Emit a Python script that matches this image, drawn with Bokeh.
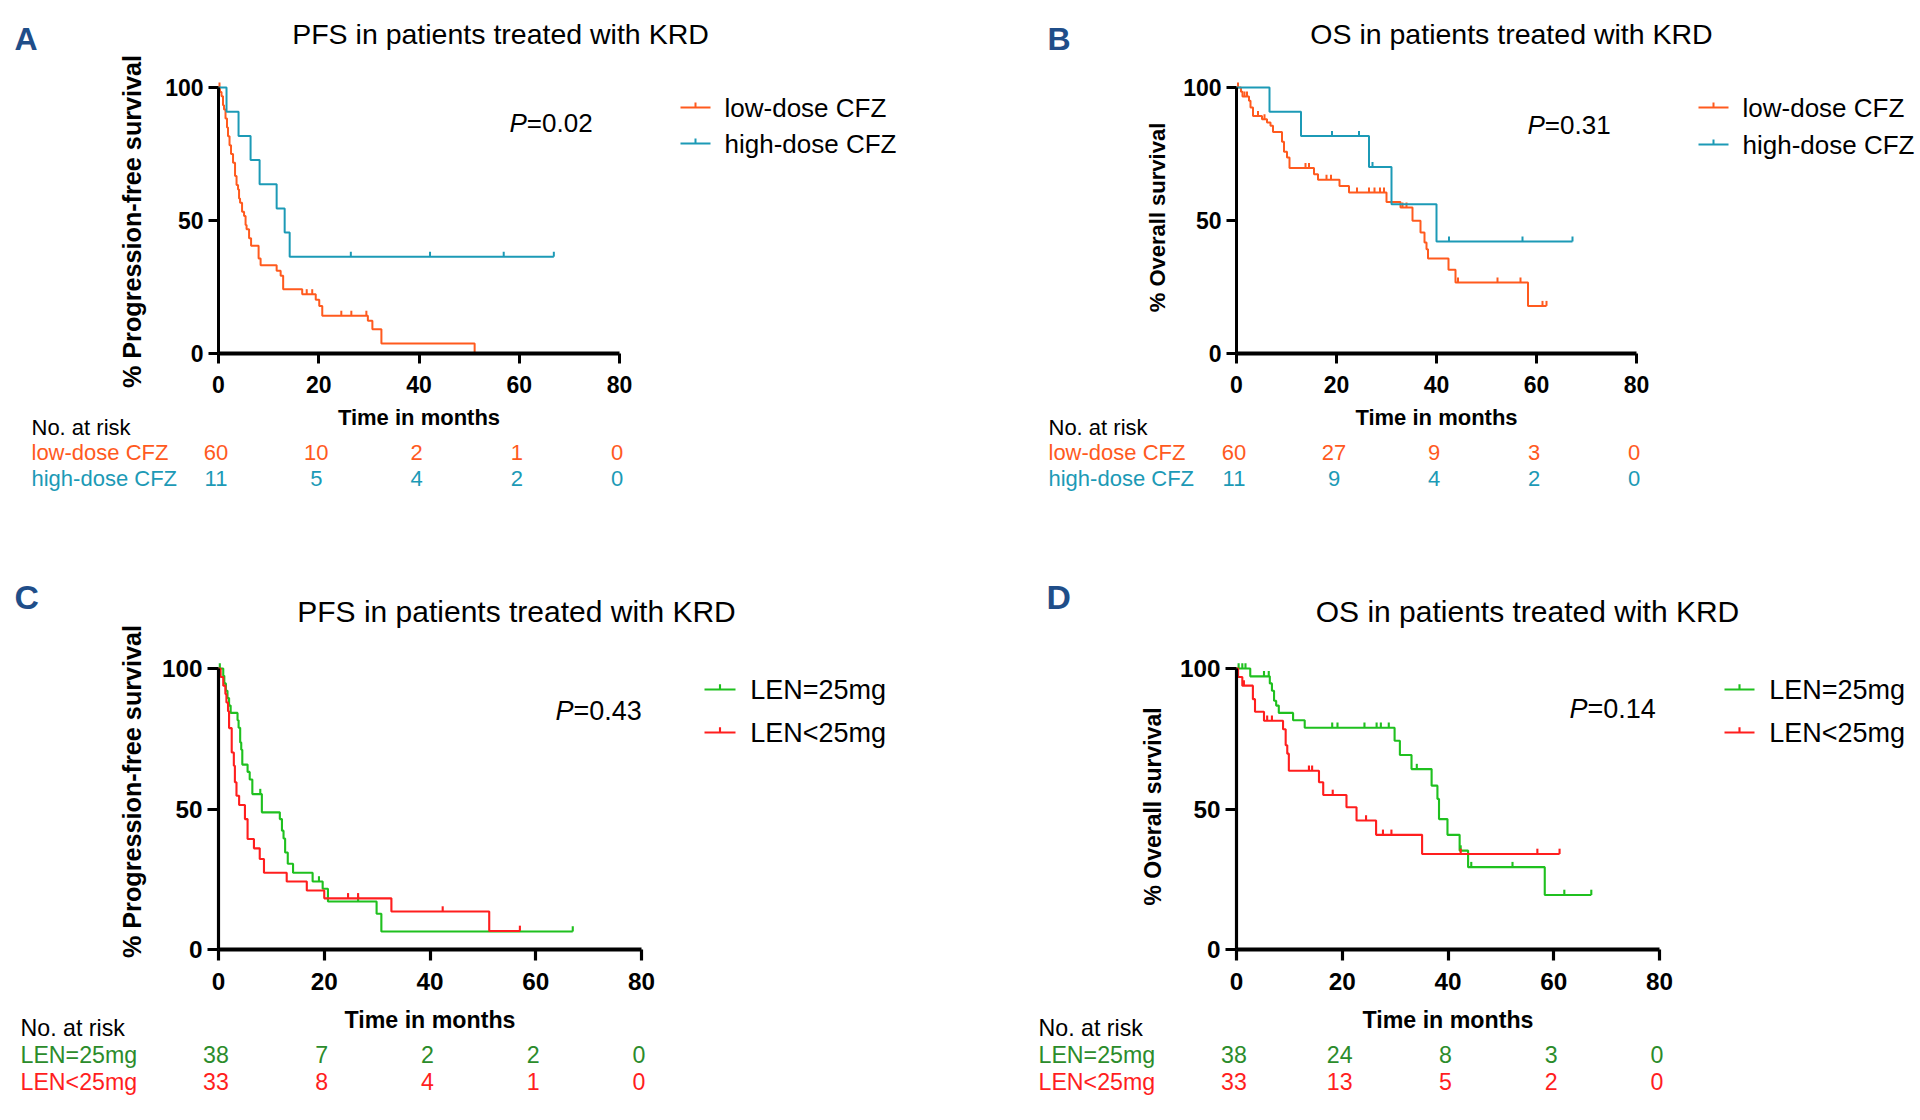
import numpy as np
from bokeh.plotting import figure
from bokeh.models import LinearAxis, FixedTicker, Range1d
from bokeh.layouts import column, row
from bokeh.core.properties import value
from bokeh.embed import file_html
from bokeh.resources import INLINE

FONT = "Liberation Sans"

X_TICKS = [0, 20, 40, 60, 80]
Y_TICKS = [0, 50, 100]

# ---------------- Panel A : PFS by CFZ dose ----------------
A_LOW_T = [0, 0.3, 0.6, 0.9, 1.1, 1.4, 1.7, 1.9, 2.2, 2.5, 2.9, 3.3, 3.6, 3.9, 4.1, 4.3, 4.7, 5.1, 5.4, 5.6,
           6.1, 6.5, 8.0, 8.4, 11.6, 12.4, 12.9, 16.7, 19.4, 20.1, 20.7, 29.8, 30.7, 32.5, 51.1]
A_LOW_S = [100, 98.3, 96.7, 93.3, 91.7, 88.3, 85.0, 81.7, 78.3, 75.0, 71.7, 66.7, 63.3, 61.7, 58.3, 56.7, 53.3, 51.7, 48.3, 46.7,
           43.3, 40.5, 35.7, 33.2, 31.1, 29.2, 24.2, 22.3, 20.2, 17.9, 14.2, 12.3, 9.1, 3.8, 0]
A_LOW_C = [0.2, 17.6, 18.7, 24.5, 26.5, 29.5]
A_HIGH_T = [0, 1.6, 4.0, 6.4, 8.2, 11.6, 13.2, 14.2, 66.9]
A_HIGH_S = [100, 90.9, 81.8, 72.7, 63.6, 54.5, 45.5, 36.4, 36.4]
A_HIGH_C = [26.4, 42.2, 56.9, 66.9]
A_RISK_LOW = [60, 10, 2, 1, 0]
A_RISK_HIGH = [11, 5, 4, 2, 0]

# ---------------- Panel B : OS by CFZ dose ----------------
B_LOW_T = [0, 0.9, 1.2, 2.5, 2.8, 3.3, 5.1, 6.1, 6.8, 7.3, 9.1, 9.5, 10.1, 10.6, 15.5, 16.3, 20.6, 22.5, 30.0, 32.8,
           35.2, 36.8, 37.6, 38.0, 38.3, 42.4, 43.8, 58.3, 62.0]
B_LOW_S = [100, 98.4, 96.6, 95.0, 92.5, 89.3, 88.1, 86.8, 85.6, 83.3, 79.6, 75.8, 73.7, 69.7, 67.4, 65.3, 63.0, 60.5, 57.0, 54.9,
           49.9, 45.5, 41.7, 39.2, 35.7, 31.5, 26.7, 17.9, 17.9]
B_LOW_C = [0.3, 1.6, 2.1, 4.3, 5.6, 13.8, 14.5, 18.0, 18.9, 24.1, 26.5, 27.6, 28.7, 29.5, 33.2, 34.0, 44.3, 52.2, 56.8, 61.2, 62.0]
B_HIGH_T = [0, 6.6, 12.9, 26.5, 31.0, 40.0, 67.2]
B_HIGH_S = [100, 90.9, 81.8, 70.1, 56.1, 42.1, 42.1]
B_HIGH_C = [19.1, 24.5, 27.2, 42.5, 57.2, 67.2]
B_RISK_LOW = [60, 27, 9, 3, 0]
B_RISK_HIGH = [11, 9, 4, 2, 0]

# ---------------- Panel C : PFS by LEN dose ----------------
C_EQ_T = [0, 0.9, 1.1, 1.4, 1.7, 2.0, 2.3, 3.6, 3.8, 4.1, 4.3, 4.5, 5.5, 5.9, 6.4, 8.2, 11.6, 12.0, 12.3, 12.6,
          13.1, 14.1, 17.8, 19.7, 20.7, 29.9, 30.8, 67.0]
C_EQ_S = [100, 97.4, 94.7, 92.1, 89.5, 86.8, 84.2, 81.6, 78.9, 73.7, 71.1, 65.8, 63.2, 60.5, 55.3, 48.8, 46.4, 42.3, 39.5, 34.5,
          30.5, 27.3, 24.2, 21.6, 17.1, 12.7, 6.4, 6.4]
C_EQ_C = [0.25, 7.9, 19.0, 26.4, 67.0]
C_LT_T = [0, 0.4, 0.9, 1.3, 1.5, 1.8, 2.0, 2.5, 2.9, 3.1, 3.4, 3.9, 5.0, 5.5, 6.7, 7.8, 8.6, 12.9, 16.7, 20.0, 32.7, 51.2, 57.0]
C_LT_S = [100, 97.0, 93.9, 90.9, 87.9, 84.8, 78.8, 70.1, 65.4, 59.5, 54.7, 51.4, 46.4, 39.3, 36.0, 32.2, 27.3, 24.2, 21.0, 18.2,
          13.5, 6.6, 6.6]
C_LT_C = [24.5, 26.4, 42.4, 57.0]
C_RISK_EQ = [38, 7, 2, 2, 0]
C_RISK_LT = [33, 8, 4, 1, 0]

# ---------------- Panel D : OS by LEN dose ----------------
D_EQ_T = [0, 2.6, 6.3, 6.7, 7.1, 7.5, 8.0, 10.7, 12.9, 29.9, 30.9, 33.1, 36.9, 38.0, 38.3, 39.9, 42.2, 43.8, 58.3, 67.1]
D_EQ_S = [100, 97.2, 94.7, 92.1, 88.5, 86.8, 84.2, 81.6, 78.9, 74.3, 69.2, 64.2, 58.3, 53.6, 46.4, 40.8, 35.2, 29.3, 19.4, 19.4]
D_EQ_C = [0.4, 1.1, 1.7, 5.2, 6.1, 18.1, 19.1, 24.2, 26.5, 27.3, 28.8, 34.1, 42.4, 44.4, 52.2, 62.0, 67.1]
D_LT_T = [0, 0.3, 1.1, 3.1, 3.5, 5.2, 8.8, 9.3, 9.6, 9.9, 15.6, 16.4, 20.8, 22.7, 26.4, 35.1, 61.1]
D_LT_S = [100, 97.0, 93.9, 89.1, 84.6, 81.4, 78.4, 72.7, 69.7, 63.6, 59.5, 55.0, 50.6, 45.9, 40.8, 34.0, 34.0]
D_LT_C = [1.4, 5.8, 6.7, 13.7, 14.3, 18.2, 24.5, 27.7, 29.3, 42.4, 56.9, 61.1]
D_RISK_EQ = [38, 24, 8, 3, 0]
D_RISK_LT = [33, 13, 5, 2, 0]

ORANGE, ORANGE_TXT = "#FF5A1E", "#FF5A1E"
TEAL, TEAL_TXT = "#1C9AB6", "#1C9AB6"
GREEN, GREEN_TXT = "#1FC01F", "#2B8C2B"
RED, RED_TXT = "#FF1E1E", "#FF1E1E"
LETTER_COLOR = "#1F4E89"

W, H = 960, 560


def make_panel(L, letter, title, ylabel, pval, groups):
    s = L["s"]
    ppm = (L["x80"] - L["x0"]) / 80.0
    ppp = (L["y0"] - L["y100"]) / 100.0
    X = lambda px: (px - L["x0"]) / ppm
    Y = lambda py: (L["y0"] - py) / ppp

    p = figure(width=W, height=H, x_range=Range1d(X(0), X(W)), y_range=Range1d(Y(H), Y(0)),
               x_axis_type=None, y_axis_type=None, toolbar_location=None,
               output_backend="svg", title=None, min_border=0)
    p.min_border_left = p.min_border_right = p.min_border_top = p.min_border_bottom = 0
    p.outline_line_color = None
    p.background_fill_color = "white"
    p.border_fill_color = "white"

    def txt(x, y, t, size, color="black", style="normal", align="left", angle=0.0):
        p.text(x=[x], y=[y], text=[t], text_font=value(FONT), text_font_size=f"{size:.1f}px",
               text_font_style=style, text_color=color, text_align=align,
               text_baseline="middle", angle=angle)

    # axes
    xa = LinearAxis(fixed_location=0, ticker=FixedTicker(ticks=X_TICKS), bounds=(0, 80))
    ya = LinearAxis(fixed_location=0, ticker=FixedTicker(ticks=Y_TICKS), bounds=(0, 100))
    for ax, lw in ((xa, 4.0 * s), (ya, 3.0 * s)):
        ax.axis_line_width = lw
        ax.axis_line_color = "black"
        ax.major_tick_line_width = 3.0 * s
        ax.major_tick_in = 0
        ax.major_tick_out = int(round(10 * s))
        ax.minor_tick_in = 0
        ax.minor_tick_out = 0
        ax.major_label_text_font = FONT
        ax.major_label_text_font_style = "bold"
        ax.major_label_text_font_size = f"{23 * s:.1f}px"
        ax.major_label_text_color = "black"
        ax.axis_label_text_font = FONT
        ax.axis_label_text_font_style = "bold"
        ax.axis_label_text_color = "black"
    xa.major_label_standoff = 12
    ya.major_label_standoff = 5
    xa.axis_label = "Time in months"
    xa.axis_label_text_font_size = f"{22 * s:.1f}px"
    xa.axis_label_standoff = int(L["xlab_std"])
    p.add_layout(xa, "below")
    p.add_layout(ya, "left")

    # y axis title (placed explicitly, GraphPad style)
    txt(X(L["ylab_x"]), Y(L["ylab_y"]), ylabel, L["ylab_size"], style="bold", align="center", angle=np.pi / 2)

    dy = 5.0 * s / ppp
    # curves
    for g in groups:
        t = np.array(g["t"], dtype=float)
        sv = np.array(g["s"], dtype=float)
        p.step(x=t, y=sv, mode="after", line_color=g["color"], line_width=2.0 * s)
        ct = np.array(g["c"], dtype=float)
        idx = np.searchsorted(t, ct, side="right") - 1
        cs = sv[idx]
        p.segment(x0=ct, y0=cs, x1=ct, y1=cs + dy, line_color=g["color"], line_width=2.0 * s)

    # panel letter & title
    txt(X(L["letter_x"]), Y(L["letter_y"]), letter, 32 * s, color=LETTER_COLOR, style="bold")
    txt(X(L["title_x"]), Y(L["title_y"]), title, L["title_size"], align="center")

    # legend (manual, GraphPad style)
    for g, ly in zip(groups, L["leg_y"]):
        x_a, x_b = X(L["leg_x"]), X(L["leg_x"] + L["leg_w"])
        p.segment(x0=[x_a], y0=[Y(ly)], x1=[x_b], y1=[Y(ly)], line_color=g["color"], line_width=2.0 * s)
        xm = (x_a + x_b) / 2
        p.segment(x0=[xm], y0=[Y(ly)], x1=[xm], y1=[Y(ly) + dy], line_color=g["color"], line_width=2.0 * s)
        txt(X(L["leg_x"] + L["leg_w"] + 14 * s), Y(ly), g["name"], L["leg_size"])

    # p value
    txt(X(L["p_x"]), Y(L["p_y"]), "P", L["leg_size"], style="italic")
    txt(X(L["p_x"] + 0.667 * L["leg_size"]), Y(L["p_y"]), pval, L["leg_size"])

    # number at risk table
    fs = 22 * s
    shift = -2.5 / ppm
    txt(X(L["table_x"]), Y(L["table_y"][0]), "No. at risk", fs)
    for g, ty in zip(groups, L["table_y"][1:]):
        txt(X(L["table_x"]), Y(ty), g["name"], fs, color=g["txt"])
        p.text(x=[v + shift for v in X_TICKS], y=[Y(ty)] * len(X_TICKS), text=[str(n) for n in g["risk"]],
               text_font=value(FONT), text_font_size=f"{fs:.1f}px", text_color=g["txt"],
               text_align="center", text_baseline="middle")
    return p


LA = dict(x0=218, x80=619, y0=353, y100=87, s=1.0, letter_x=14, letter_y=38, title_x=500, title_y=33,
          title_size=28.5, leg_x=680, leg_w=30, leg_y=(107, 143), leg_size=26, p_x=509, p_y=122,
          table_x=31, table_y=(427, 452, 478), ylab_x=131, ylab_y=221, ylab_size=25.2, xlab_std=9)
LB = dict(x0=276, x80=676, y0=353, y100=87, s=1.0, letter_x=87, letter_y=38, title_x=551, title_y=33,
          title_size=28.5, leg_x=738, leg_w=30, leg_y=(107, 144), leg_size=26, p_x=567, p_y=124,
          table_x=88, table_y=(427, 452, 478), ylab_x=197, ylab_y=217, ylab_size=22, xlab_std=9)
LC = dict(x0=218, x80=641, y0=389, y100=108, s=1.055, letter_x=14, letter_y=36, title_x=516, title_y=51,
          title_size=30, leg_x=704, leg_w=31, leg_y=(129, 172), leg_size=27, p_x=555, p_y=150,
          table_x=20, table_y=(467, 494, 521), ylab_x=131, ylab_y=231, ylab_size=25.2, xlab_std=14)
LD = dict(x0=276, x80=699, y0=389, y100=108, s=1.055, letter_x=86, letter_y=36, title_x=567, title_y=51,
          title_size=30, leg_x=764, leg_w=30, leg_y=(129, 172), leg_size=27, p_x=609, p_y=148,
          table_x=78, table_y=(467, 494, 521), ylab_x=192, ylab_y=246, ylab_size=23, xlab_std=14)

pa = make_panel(LA, "A", "PFS in patients treated with KRD", "% Progression-free survival", "=0.02", [
    dict(name="low-dose CFZ", t=A_LOW_T, s=A_LOW_S, c=A_LOW_C, risk=A_RISK_LOW, color=ORANGE, txt=ORANGE_TXT),
    dict(name="high-dose CFZ", t=A_HIGH_T, s=A_HIGH_S, c=A_HIGH_C, risk=A_RISK_HIGH, color=TEAL, txt=TEAL_TXT)])
pb = make_panel(LB, "B", "OS in patients treated with KRD", "% Overall survival", "=0.31", [
    dict(name="low-dose CFZ", t=B_LOW_T, s=B_LOW_S, c=B_LOW_C, risk=B_RISK_LOW, color=ORANGE, txt=ORANGE_TXT),
    dict(name="high-dose CFZ", t=B_HIGH_T, s=B_HIGH_S, c=B_HIGH_C, risk=B_RISK_HIGH, color=TEAL, txt=TEAL_TXT)])
pc = make_panel(LC, "C", "PFS in patients treated with KRD", "% Progression-free survival", "=0.43", [
    dict(name="LEN=25mg", t=C_EQ_T, s=C_EQ_S, c=C_EQ_C, risk=C_RISK_EQ, color=GREEN, txt=GREEN_TXT),
    dict(name="LEN<25mg", t=C_LT_T, s=C_LT_S, c=C_LT_C, risk=C_RISK_LT, color=RED, txt=RED_TXT)])
pd_ = make_panel(LD, "D", "OS in patients treated with KRD", "% Overall survival", "=0.14", [
    dict(name="LEN=25mg", t=D_EQ_T, s=D_EQ_S, c=D_EQ_C, risk=D_RISK_EQ, color=GREEN, txt=GREEN_TXT),
    dict(name="LEN<25mg", t=D_LT_T, s=D_LT_S, c=D_LT_C, risk=D_RISK_LT, color=RED, txt=RED_TXT)])

layout = column(row(pa, pb), row(pc, pd_))
open("out.html", "w").write(file_html(layout, INLINE))
